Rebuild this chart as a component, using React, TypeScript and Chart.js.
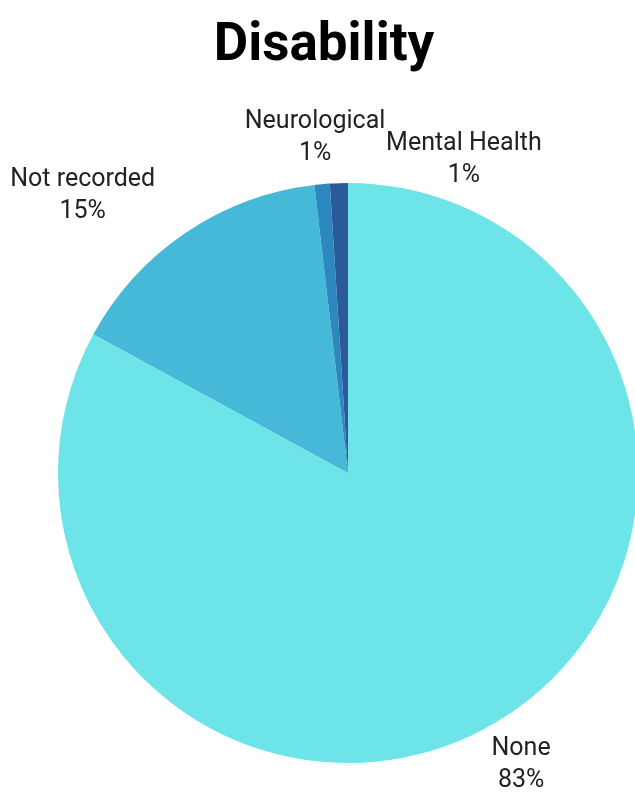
import React, { useEffect, useRef } from "react";
import { Chart, registerables } from "chart.js";

Chart.register(...registerables);

const TITLE = "Disability";
const categories = ["None", "Not recorded", "Neurological", "Mental Health"];
const values = [82.9, 15.2, 0.85, 1.0];
const colors = ["#6de4e7", "#45b9d7", "#2d88c0", "#2b5a9a"];
// label nudges (px) from the arc's outer edge at mid-angle
const labelNudges: [number, number][] = [
  [25, 42],
  [-103, -37],
  [-7, -46],
  [125, -23],
];

const FONT = "Roboto, 'Noto Sans', sans-serif";

const labelPlugin = {
  id: "pieLabels",
  afterDraw(chart: any) {
    const ctx = chart.ctx;
    const meta = chart.getDatasetMeta(0);
    const total = values.reduce((a, b) => a + b, 0);
    ctx.save();
    // title
    ctx.fillStyle = "#000";
    ctx.font = `bold 53px ${FONT}`;
    ctx.textAlign = "center";
    ctx.textBaseline = "alphabetic";
    ctx.fillText(TITLE, 324, 60);
    // labels
    ctx.fillStyle = "#222";
    ctx.font = `25px ${FONT}`;
    ctx.textBaseline = "middle";
    meta.data.forEach((arc: any, i: number) => {
      const p = arc.getProps(["x", "y", "startAngle", "endAngle", "outerRadius"], true);
      const mid = (p.startAngle + p.endAngle) / 2;
      const x = p.x + Math.cos(mid) * p.outerRadius + labelNudges[i][0];
      const y = p.y + Math.sin(mid) * p.outerRadius + labelNudges[i][1];
      const pct = Math.round((values[i] / total) * 100) + "%";
      ctx.fillText(categories[i], x, y - 16);
      ctx.fillText(pct, x, y + 16);
    });
    ctx.restore();
  },
};

export default function App() {
  const ref = useRef<HTMLCanvasElement | null>(null);
  useEffect(() => {
    document.body.style.margin = "0";
    const chart = new Chart(ref.current as HTMLCanvasElement, {
      type: "pie",
      data: {
        labels: categories,
        datasets: [
          {
            data: values,
            backgroundColor: colors,
            borderWidth: 0,
          },
        ],
      },
      options: {
        responsive: false,
        animation: false,
        devicePixelRatio: 1,
        radius: 290,
        layout: { padding: { left: 61, right: 0, top: 183, bottom: 29 } },
        plugins: {
          legend: { display: false },
          tooltip: { enabled: false },
          title: { display: false },
        },
      },
      plugins: [labelPlugin],
    } as any);
    return () => chart.destroy();
  }, []);
  return (
    <div style={{ position: "absolute", left: 0, top: 0, width: 635, height: 792, background: "#fff" }}>
      <canvas ref={ref} width={635} height={792} style={{ width: 635, height: 792, display: "block" }} />
    </div>
  );
}
